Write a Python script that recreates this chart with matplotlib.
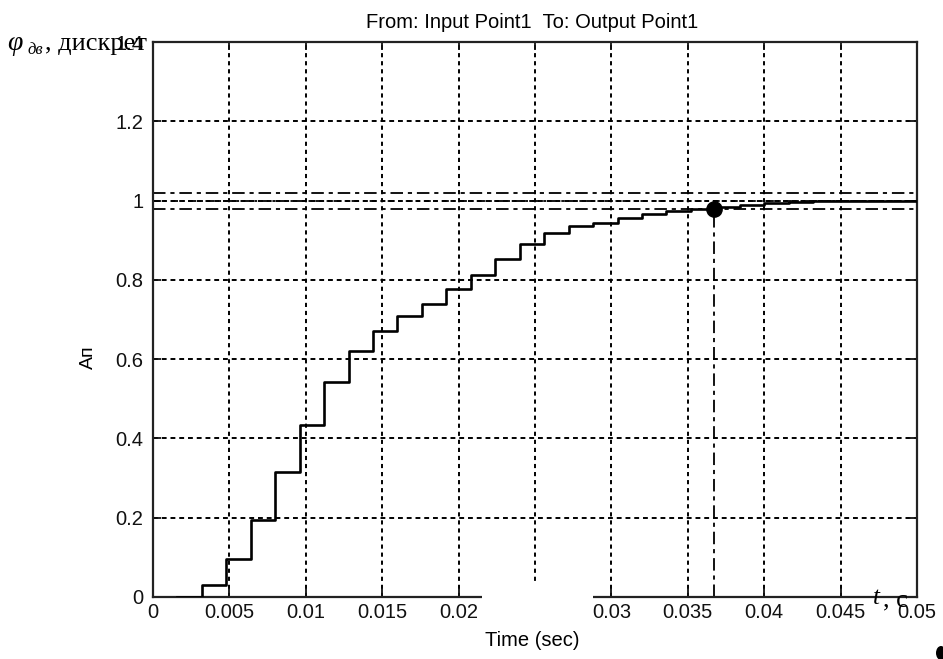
import matplotlib
matplotlib.use('Agg')
from matplotlib import pyplot as plt
from matplotlib.patches import Rectangle, Ellipse

# step response samples (sample time 0.0016 s)
t_samp = [0.0016, 0.0032, 0.0048, 0.0064, 0.0080, 0.0096, 0.0112, 0.0128,
          0.0144, 0.0160, 0.0176, 0.0192, 0.0208, 0.0224, 0.0240, 0.0256,
          0.0272, 0.0288, 0.0304, 0.0320, 0.0336, 0.0352, 0.0368, 0.0384,
          0.0400, 0.0416, 0.0432, 0.0448, 0.0464, 0.0480, 0.0496, 0.0500]
y_samp = [0.0, 0.03, 0.095, 0.195, 0.315, 0.435, 0.543, 0.62,
          0.67, 0.71, 0.74, 0.776, 0.812, 0.852, 0.89, 0.917,
          0.936, 0.944, 0.956, 0.965, 0.973, 0.98, 0.985, 0.99,
          0.993, 0.996, 0.998, 0.999, 1.0, 1.0, 1.0, 1.0]

settle_t = 0.0367
settle_y = 0.98
final_val = 1.0
band = [0.98, 1.02]

x_ticks = [0, 0.005, 0.01, 0.015, 0.02, 0.025, 0.03, 0.035, 0.04, 0.045, 0.05]
x_labels = ['0', '0.005', '0.01', '0.015', '0.02', '0.025', '0.03', '0.035',
            '0.04', '0.045', '0.05']
y_ticks = [0, 0.2, 0.4, 0.6, 0.8, 1, 1.2, 1.4]
y_labels = ['0', '0.2', '0.4', '0.6', '0.8', '1', '1.2', '1.4']

plt.rcParams['font.family'] = ['Liberation Sans', 'DejaVu Sans']
plt.rcParams['lines.scale_dashes'] = False

W, H = 943, 659
fig = plt.figure(figsize=(W / 100, H / 100), dpi=100)
ax = fig.add_axes([153 / W, 1 - 597 / H, (917 - 153) / W, (597 - 42) / H])

ax.set_xlim(0, 0.05)
ax.set_ylim(0, 1.4)
ax.set_xticks(x_ticks)
ax.set_xticklabels(x_labels)
ax.set_yticks(y_ticks)
ax.set_yticklabels(y_labels)
ax.tick_params(direction='in', length=6, width=1.3, top=True, right=True,
               labelsize=14.5, colors='#111111')
ax.tick_params(axis='x', pad=4)
ax.tick_params(axis='y', pad=7)
for sp in ax.spines.values():
    sp.set_linewidth(1.6)
    sp.set_color('#222222')

# dotted grid
for xv in x_ticks[1:-1]:
    ax.axvline(xv, color='k', lw=1.4, dashes=(3, 2.8), zorder=1)
for yv in y_ticks[1:-1]:
    ax.axhline(yv, color='k', lw=1.4, dashes=(3.5, 2.8), zorder=1)

# settling band and final value
for b in band:
    ax.axhline(b, color='k', lw=1.3, dashes=(9, 3.5, 3, 3.5), zorder=2)
ax.axhline(final_val, color='k', lw=1.3, dashes=(5, 3, 2, 3), zorder=2)

ax.step(t_samp, y_samp, where='post', color='k', lw=1.9, zorder=3)

ax.plot([settle_t, settle_t], [0, settle_y], color='k', lw=1.3,
        dashes=(9, 3.5, 3, 3.5), zorder=2)
ax.plot([settle_t], [settle_y], 'o', color='k', ms=11, zorder=4)

# texts
fig.text(532 / W, 1 - 22 / H, 'From: Input Point1  To: Output Point1',
         ha='center', va='center', fontsize=14.5)
fig.text(532 / W, 1 - 640 / H, 'Time (sec)', ha='center', va='center',
         fontsize=14.5)
fig.text(88 / W, 1 - 357 / H, 'Ап', ha='center', va='center', rotation=90,
         fontsize=14)

# erased bit of the bottom axis
fig.patches.append(Rectangle((482 / W, 1 - 628 / H), 111 / W, 45 / H,
                             transform=fig.transFigure, facecolor='white',
                             edgecolor='none', zorder=10))

# handwritten-style overlay labels
fig.text(7 / W, 1 - 50 / H, 'φ', fontsize=20, family='Liberation Serif',
         style='italic', va='baseline', zorder=11)
fig.text(27 / W, 1 - 54 / H, 'дв', fontsize=12, family='Liberation Serif',
         style='italic', va='baseline', zorder=11)
fig.text(45 / W, 1 - 50 / H, ', дискрет', fontsize=19,
         family='Liberation Serif', va='baseline', zorder=11)
fig.text(873 / W, 1 - 604 / H, 't', fontsize=18, family='Liberation Serif',
         style='italic', va='baseline', zorder=11)
fig.text(883 / W, 1 - 606 / H, ', с', fontsize=19,
         family='Liberation Serif', va='baseline', zorder=11)

fig.patches.append(Ellipse((941 / W, 1 - 653 / H), 10 / W, 14 / H,
                           transform=fig.transFigure, facecolor='k',
                           edgecolor='none', zorder=11))

fig.savefig('out.png', dpi=100)
